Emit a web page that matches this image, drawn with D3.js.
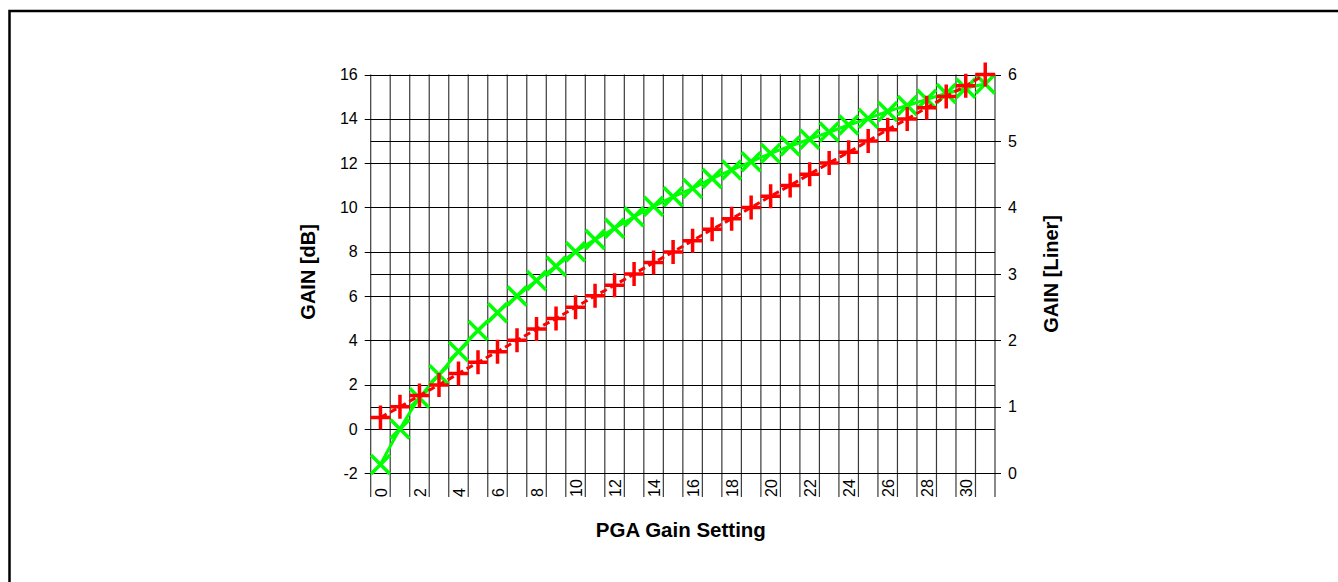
<!DOCTYPE html>
<html>
<head>
<meta charset="utf-8">
<script src="https://cdn.jsdelivr.net/npm/d3@7"></script>
<style>
  html, body { margin: 0; padding: 0; background: #fff; }
  svg { display: block; }
  text { font-family: Arial, "Liberation Sans", sans-serif; fill: #000; }
</style>
</head>
<body>
<svg id="chart" width="1338" height="582"></svg>
<script>
// ---- data ----
const categories = d3.range(0, 32);            // PGA gain setting 0..31
const xTickLabels = ["0","2","4","6","8","10","12","14","16","18","20","22","24","26","28","30"];
const leftTicks = [-2, 0, 2, 4, 6, 8, 10, 12, 14, 16];
const rightTicks = [0, 1, 2, 3, 4, 5, 6];
// green series: GAIN [dB] (left axis)
const gainDb = [-1.60, 0.00, 1.40, 2.45, 3.50, 4.45, 5.25, 6.00, 6.70, 7.35,
                8.00, 8.55, 9.06, 9.58, 10.05, 10.48, 10.86, 11.31, 11.69, 12.06,
                12.44, 12.77, 13.08, 13.40, 13.72, 14.02, 14.33, 14.60, 14.88, 15.14,
                15.38, 15.57];
// red series: GAIN [Liner] (right axis)
const gainLinear = [0.84, 1.00, 1.17, 1.33, 1.50, 1.67, 1.83, 2.00, 2.17, 2.33,
                    2.50, 2.67, 2.83, 3.00, 3.17, 3.33, 3.50, 3.67, 3.83, 4.00,
                    4.17, 4.33, 4.50, 4.67, 4.83, 5.00, 5.17, 5.33, 5.50, 5.67,
                    5.83, 6.00];

// ---- layout ----
const svg = d3.select("#chart");
const L = 370.7, R = 995, T = 74.5, B = 473.3, tickBottom = 497;

// outer frame (extends beyond the picture on right / bottom)
svg.append("path")
  .attr("d", `M9.5,700 L9.5,11 L1400,11`)
  .attr("fill", "none").attr("stroke", "#000").attr("stroke-width", 2.5);

const x = d3.scaleBand().domain(categories).range([L, R]).paddingInner(0).paddingOuter(0);
const yL = d3.scaleLinear().domain([-2, 16]).range([B, T]);
const yR = d3.scaleLinear().domain([0, 6]).range([B, T]);

const g = svg.append("g");

// vertical category boundary lines (extend down through label area)
const bounds = categories.map(c => x(c)).concat([x(categories[categories.length - 1]) + x.bandwidth()]);
g.selectAll("line.vgrid").data(bounds).enter().append("line")
  .attr("class", "vgrid")
  .attr("x1", d => d).attr("x2", d => d)
  .attr("y1", T).attr("y2", tickBottom)
  .attr("stroke", "#3a3a3a").attr("stroke-width", 1.2);

// horizontal gridlines for left axis
g.selectAll("line.hgridL").data(leftTicks).enter().append("line")
  .attr("x1", L - 6).attr("x2", R)
  .attr("y1", d => Math.round(yL(d)) + 0.5).attr("y2", d => Math.round(yL(d)) + 0.5)
  .attr("stroke", "#000").attr("stroke-width", 1);

// horizontal gridlines for right axis
g.selectAll("line.hgridR").data(rightTicks).enter().append("line")
  .attr("x1", L).attr("x2", R + 6)
  .attr("y1", d => Math.round(yR(d)) + 0.5).attr("y2", d => Math.round(yR(d)) + 0.5)
  .attr("stroke", "#000").attr("stroke-width", 1);

// left axis labels
const leftAxis = d3.axisLeft(yL).tickValues(leftTicks).tickSize(0).tickPadding(0).tickFormat(d => String(d));
const la = svg.append("g").attr("transform", `translate(${L - 13},0)`).call(leftAxis);
la.select(".domain").remove();
la.selectAll("text").style("font-size", "16px").style("font-family", "Arial, 'Liberation Sans', sans-serif").attr("fill", "#000");

// right axis labels
const rightAxis = d3.axisRight(yR).tickValues(rightTicks).tickSize(0).tickPadding(0).tickFormat(d => String(d));
const ra = svg.append("g").attr("transform", `translate(${R + 13},0)`).call(rightAxis);
ra.select(".domain").remove();
ra.selectAll("text").style("font-size", "16px").style("font-family", "Arial, 'Liberation Sans', sans-serif").attr("fill", "#000");

// x category labels (every other), rotated
const labelled = categories.filter(c => xTickLabels.includes(String(c)));
svg.selectAll("text.xlab").data(labelled).enter().append("text")
  .attr("class", "xlab")
  .attr("transform", d => `translate(${x(d) + x.bandwidth() / 2 + 0.5},${tickBottom}) rotate(-90)`)
  .attr("dy", "0.36em")
  .attr("text-anchor", "start")
  .style("font-size", "16px")
  .text(d => String(d));

// axis titles
svg.append("text")
  .attr("transform", `translate(315,${(T + B) / 2 - 2}) rotate(-90)`)
  .attr("text-anchor", "middle")
  .style("font-size", "20px").style("font-weight", "bold")
  .text("GAIN [dB]");
svg.append("text")
  .attr("transform", `translate(1058,${(T + B) / 2}) rotate(-90)`)
  .attr("text-anchor", "middle")
  .style("font-size", "20px").style("font-weight", "bold")
  .text("GAIN [Liner]");
svg.append("text")
  .attr("x", (L + R) / 2 - 2).attr("y", 537)
  .attr("text-anchor", "middle")
  .style("font-size", "20.5px").style("font-weight", "bold")
  .text("PGA Gain Setting");

const cx = c => x(c) + x.bandwidth() / 2;

// green line + X markers
const greenPts = categories.map((c, i) => [cx(c), yL(gainDb[i])]);
svg.append("path")
  .attr("d", d3.line().curve(d3.curveMonotoneX)(greenPts))
  .attr("fill", "none").attr("stroke", "#00ff00").attr("stroke-width", 3);
const gx = 9.5;
svg.selectAll("path.gm").data(greenPts).enter().append("path")
  .attr("d", d => `M${d[0]-gx},${d[1]-gx}L${d[0]+gx},${d[1]+gx}M${d[0]-gx},${d[1]+gx}L${d[0]+gx},${d[1]-gx}`)
  .attr("stroke", "#00ff00").attr("stroke-width", 3.5).attr("fill", "none");

// red line + plus markers
const redPts = categories.map((c, i) => [cx(c), yR(gainLinear[i])]);
svg.append("path")
  .attr("d", d3.line()(redPts))
  .attr("fill", "none").attr("stroke", "#ff0000").attr("stroke-width", 3)
  .attr("stroke-dasharray", "7,4");
const rw = 10, rh = 12;
svg.selectAll("path.rm").data(redPts).enter().append("path")
  .attr("d", d => `M${d[0]-rw},${d[1]}L${d[0]+rw},${d[1]}M${d[0]},${d[1]-rh}L${d[0]},${d[1]+rh}`)
  .attr("stroke", "#ff0000").attr("stroke-width", 3.5).attr("fill", "none");
</script>
</body>
</html>
